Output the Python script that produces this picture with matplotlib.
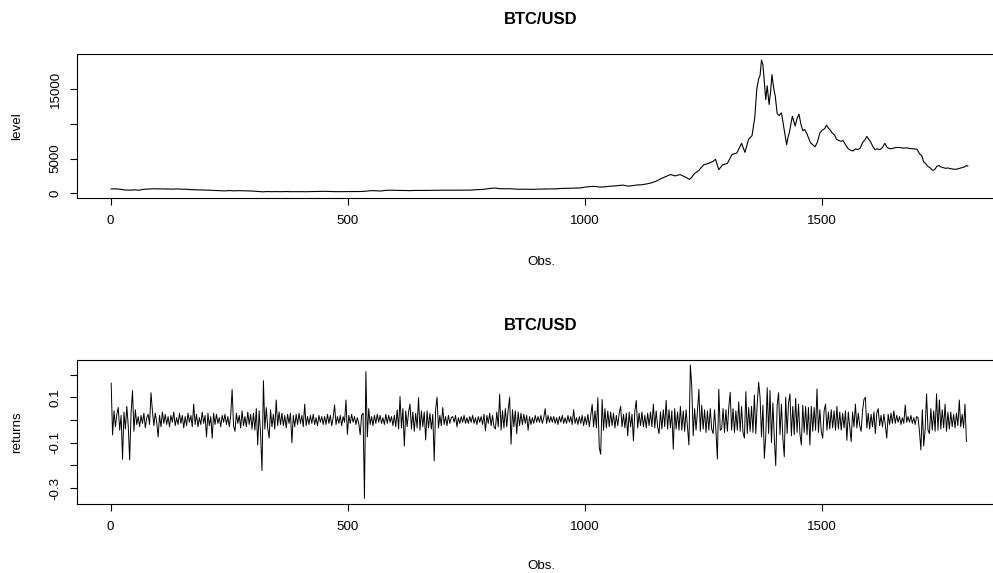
import numpy as np
import matplotlib
matplotlib.use("Agg")
import matplotlib.pyplot as plt

plt.rcParams['font.family'] = ['Liberation Sans', 'DejaVu Sans']

# ---- data: BTC/USD level (obs, price) ----
level_obs = [1, 10, 20, 30, 40, 50, 60, 70, 80, 90, 100, 110, 120, 130, 140, 150, 160, 170, 180, 190,
             200, 210, 220, 230, 240, 250, 260, 270, 280, 290, 300, 310, 320, 330, 340, 350, 360, 370, 380, 390,
             400, 410, 420, 430, 440, 450, 460, 470, 480, 490, 500, 510, 520, 530, 540, 550, 560, 570, 580, 590,
             600, 610, 620, 630, 640, 650, 660, 670, 680, 690, 700, 710, 720, 730, 740, 750, 760, 770, 780, 790,
             800, 810, 820, 830, 840, 850, 860, 870, 880, 890, 900, 910, 920, 930, 940, 950, 960, 970, 980, 990,
             1000, 1010, 1020, 1030, 1040, 1050, 1060, 1070, 1080, 1090, 1100, 1110, 1120, 1130, 1140, 1150,
             1160, 1170, 1180, 1190, 1200, 1210, 1220, 1225, 1230, 1240, 1250, 1260, 1270, 1275, 1282, 1290,
             1300, 1310, 1320, 1330, 1337, 1345, 1352, 1358, 1362, 1366, 1369, 1372, 1375, 1378, 1381, 1384,
             1388, 1391, 1394, 1398, 1401, 1405, 1409, 1414, 1419, 1422, 1425, 1428, 1431, 1434, 1437, 1440,
             1443, 1447, 1451, 1455, 1459, 1463, 1467, 1471, 1475, 1480, 1485, 1490, 1495, 1500, 1505, 1509,
             1513, 1517, 1521, 1526, 1530, 1535, 1540, 1544, 1550, 1555, 1560, 1565, 1570, 1575, 1580, 1585,
             1590, 1594, 1598, 1602, 1607, 1611, 1616, 1622, 1627, 1632, 1637, 1643, 1650, 1657, 1664, 1671,
             1678, 1685, 1692, 1700, 1705, 1710, 1714, 1718, 1722, 1727, 1731, 1734, 1738, 1742, 1746, 1750,
             1755, 1760, 1765, 1770, 1775, 1780, 1785, 1790, 1795, 1800, 1804, 1807]
level_val = [620, 640, 580, 470, 450, 500, 440, 580, 620, 650, 640, 630, 620, 600, 630, 590, 580, 520, 500, 480,
             470, 440, 400, 380, 340, 390, 350, 380, 360, 330, 320, 260, 210, 250, 230, 240, 230, 250, 230, 240,
             235, 225, 240, 240, 270, 285, 260, 240, 230, 235, 240, 240, 245, 260, 320, 380, 360, 330, 420, 440,
             430, 420, 400, 380, 410, 420, 410, 420, 420, 430, 440, 450, 440, 450, 450, 450, 460, 520, 540, 600,
             700, 760, 660, 650, 660, 620, 580, 590, 580, 570, 600, 610, 610, 620, 640, 700, 710, 730, 750, 770,
             890, 960, 1000, 900, 920, 1000, 1050, 1120, 1180, 1030, 1100, 1200, 1230, 1350, 1500, 1750,
             2100, 2400, 2700, 2500, 2700, 2400, 2000, 2300, 2800, 3300, 4100, 4300, 4600, 4900, 3400, 4100,
             4300, 5600, 5800, 7200, 5900, 7800, 8300, 11000, 15000, 16500, 17000, 19200, 18500, 16000, 13500, 15500,
             12800, 14500, 17100, 15000, 14000, 11500, 11200, 11600, 9500, 8200, 7000, 8100, 8800, 10000, 11100, 10400,
             9700, 10800, 11400, 10000, 9000, 9200, 8700, 8000, 7300, 7000, 6700, 7400, 8700, 9100, 9300, 9800,
             9400, 9100, 8700, 8400, 7800, 7600, 7500, 7600, 6900, 6400, 6200, 6100, 6400, 6300, 6500, 7300,
             7700, 8200, 7800, 7400, 6700, 6300, 6400, 6300, 6600, 7200, 6600, 6400, 6500, 6600, 6600, 6500,
             6550, 6450, 6400, 6350, 5700, 5400, 4500, 4300, 3900, 3700, 3400, 3300, 3500, 3900, 4000, 3800,
             3700, 3600, 3650, 3550, 3500, 3450, 3500, 3600, 3700, 3800, 4000, 3900]

# ---- data: daily returns (in thousandths), every 3rd obs ----
ret_milli = [
    162, -66, 40, -30, 25, 55, -45, 20, -173, 35,
    -40, 60, -25, -176, 30, 129, -50, 45, -20, 15,
    -30, 20, -15, 30, -35, 10, 25, -20, 120, 40,
    -25, 30, -10, -75, 20, -30, 35, -15, 25, -20,
    15, -30, 20, -10, 35, -25, 10, -20, 30, -15,
    20, -35, 15, -25, 30, -10, 20, -30, 70, -20,
    25, -30, 10, -20, 35, -15, 20, -75, 30, -25,
    15, -80, 30, -20, 25, -15, 10, -30, 20, -10,
    25, -20, 15, -30, 20, 135, -25, -50, 30, -15,
    20, -35, 40, -25, 15, -30, 35, -20, 25, -40,
    30, -45, 50, -110, 40, -60, -223, 173, -40, 55,
    -35, -80, 45, -30, 25, -40, 88, -25, 35, -20,
    30, -25, 20, -35, 25, -15, 30, -100, 20, -30,
    25, -20, 30, -15, 20, -30, 70, -25, 15, -20,
    20, -15, 25, -20, 10, -25, 20, -10, 15, -20,
    15, -20, 25, -15, 20, -25, 10, 66, -20, 15,
    -15, 20, -25, 15, -10, 88, -63, 20, -15, 25,
    -10, 15, -20, 10, -15, -65, 20, 30, -345, 213,
    -75, 50, -20, 15, -25, 20, -15, 25, -10, 20,
    -15, 10, -20, 25, -15, 20, -10, 15, -25, 20,
    -30, 45, -40, 103, -35, 50, -115, 40, -30, 35,
    70, -40, 35, -50, 30, -35, 98, -45, 40, -30,
    35, -88, 40, -35, 30, -40, 25, -180, 45, 100,
    -35, 20, -25, 55, -20, 15, -25, 20, -15, 10,
    15, -10, 20, -30, 10, -15, 15, -10, 20, -15,
    10, -15, 15, -10, 20, -15, 10, -20, 15, -10,
    15, -20, 25, -48, 20, -15, 30, -25, 20, -30,
    -40, 35, -30, 113, -45, 40, -35, 50, -30, 45,
    100, -107, 45, -30, 40, -60, 35, -25, 30, -20,
    25, -15, 20, -45, 15, -20, 10, -15, 20, -10,
    15, -10, 20, -15, 10, 50, -15, 20, -10, 15,
    -10, 15, -15, 10, -20, 15, -10, 20, -15, 10,
    -15, 20, -10, 15, -20, 45, -15, 10, -20, 15,
    -15, 20, -25, 15, -20, 25, -30, 20, 69, -30,
    40, -35, 98, -122, -151, 90, -45, 50, -35, 40,
    -30, 35, -25, 30, -35, 20, -25, 30, 60, -30,
    25, -35, 30, -70, 35, -30, 25, -92, 40, 86,
    -35, 30, -25, 35, -30, 20, -35, 30, -25, 35,
    -30, 70, -35, 40, -30, -60, 35, -40, 45, -30,
    86, -40, 45, -35, 40, -129, 50, -40, 35, -45,
    60, -45, 40, -50, 45, -35, -110, 242, 147, -70,
    50, -45, 40, 135, -50, 65, -40, 45, -55, 40,
    -45, 50, -40, -60, 45, -50, -172, 135, -45, -40,
    50, -55, 45, -50, 55, 122, -45, 50, -55, 40,
    -45, 80, -50, 60, -55, -80, 125, -60, 55, -50,
    60, -55, 110, -60, 70, 166, 100, -75, 65, -169,
    -70, 142, -60, 130, -100, 75, -80, -201, 65, 120,
    -65, 70, -80, -162, 100, -60, 75, 115, -70, 60,
    -65, 95, -55, 70, -60, -110, 65, -55, 60, -65,
    55, -110, 60, -50, 55, -45, 137, -55, 45, -50,
    -80, 40, 70, -45, 35, -40, 45, -35, 40, -45,
    60, -40, 35, -45, 30, -35, 40, -90, 35, -30,
    -95, 35, -30, 70, -35, 30, -25, -50, 40, 90,
    100, -35, 30, -40, 25, -30, 35, -60, 30, 50,
    -25, 20, -30, 25, -20, -80, 25, -20, 30, -15,
    40, -15, 20, -10, 15, -20, 10, -15, 66, -10,
    15, -10, 20, -15, 10, -20, 15, 10, -50, -132,
    45, -115, -40, 115, -45, -60, 50, -45, 40, -50,
    115, -45, 88, -40, 45, -35, 70, -50, 35, -40,
    35, -30, 25, -35, 30, -25, 88, -30, 25, -35,
    70, -95,
]
returns = np.array(ret_milli) / 1000.0
ret_obs = 1 + 3 * np.arange(len(returns))

x_ticks = [0, 500, 1000, 1500]
level_ticks = [0, 5000, 10000, 15000]
level_labels = ['0', '5000', '', '15000']
ret_ticks = [-0.3, -0.2, -0.1, 0.0, 0.1, 0.2]
ret_labels = ['-0.3', '', '-0.1', '', '0.1', '']

# ---- figure ----
W, H = 993, 573
fig = plt.figure(figsize=(W / 100, H / 100), dpi=100)


def px_axes(left, top, right, bottom):
    return fig.add_axes([left / W, 1 - bottom / H, (right - left) / W, (bottom - top) / H])


def style(ax):
    for s in ax.spines.values():
        s.set_linewidth(0.8)
        s.set_color('black')
    ax.tick_params(direction='out', length=5, width=0.8, labelsize=9.6, colors='black')
    ax.tick_params(axis='x', pad=7)
    ax.tick_params(axis='y', pad=6)
    ax.set_xlim(-71, 1879)
    ax.set_xticks(x_ticks)
    for lab in ax.get_yticklabels():
        lab.set_rotation(90)
        lab.set_va('center')


ax1 = px_axes(77, 54, 1002, 198)
ax1.plot(level_obs, level_val, color='black', linewidth=0.8)
ax1.set_ylim(-680, 20070)
ax1.set_yticks(level_ticks)
ax1.set_yticklabels(level_labels)
style(ax1)

ax2 = px_axes(77, 360, 1002, 504)
ax2.plot(ret_obs, returns, color='black', linewidth=0.7)
ax2.set_ylim(-0.37, 0.264)
ax2.set_yticks(ret_ticks)
ax2.set_yticklabels(ret_labels)
style(ax2)

# titles and axis labels placed like the R base plot
for yc in (20, 326):
    fig.text(541 / W, 1 - yc / H, 'BTC/USD', ha='center', va='center',
             fontsize=12, fontweight='bold')
for yc in (262, 566):
    fig.text(541 / W, 1 - yc / H, 'Obs.', ha='center', va='center', fontsize=9.6)
fig.text(17 / W, 1 - 126 / H, 'level', ha='center', va='center', rotation=90, fontsize=9.6)
fig.text(17 / W, 1 - 432 / H, 'returns', ha='center', va='center', rotation=90, fontsize=9.6)

fig.savefig('out.png', dpi=100)
